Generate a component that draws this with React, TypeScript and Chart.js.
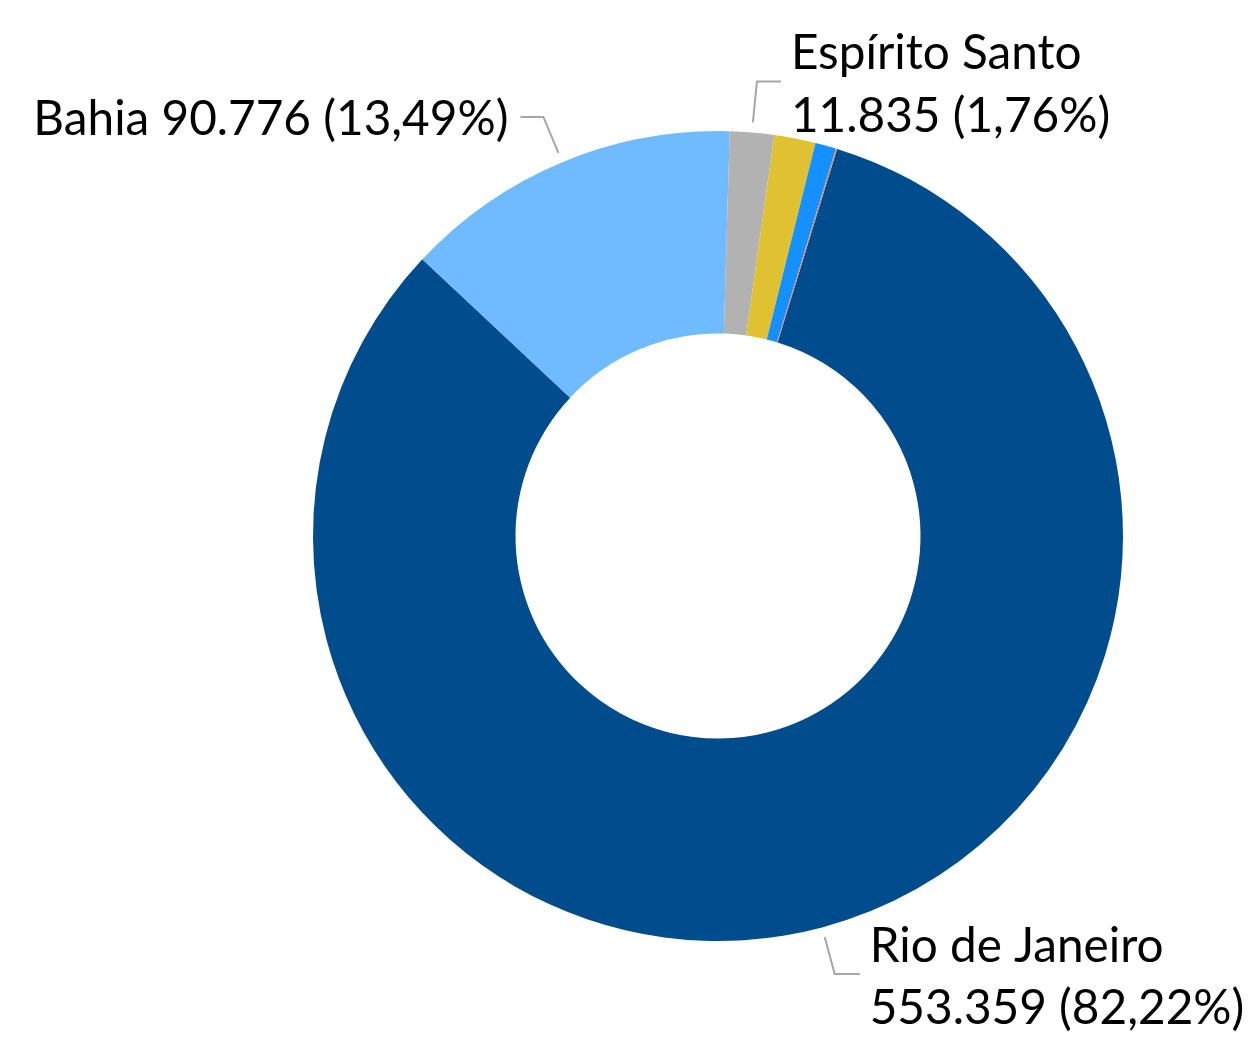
import React, { useEffect, useRef } from "react";
import { Chart, registerables } from "chart.js";

Chart.register(...registerables);

const categories = ["Rio de Janeiro", "Bahia", "Espírito Santo", "São Paulo", "Sergipe", "Outros"];
const values = [553359, 90776, 11835, 11100, 5600, 330];
const colors = ["#004C8C", "#70BAFF", "#B2B2B2", "#E0C132", "#1590FF", "#E8825A"];
const labeledIndexes = [0, 1, 2];

const FONT = "Lato";

const fmtNum = (v: number) => v.toLocaleString("pt-BR");
const fmtPct = (v: number, t: number) =>
  (v / t * 100).toLocaleString("pt-BR", { minimumFractionDigits: 2, maximumFractionDigits: 2 }) + "%";

// leader-line geometry per labeled slice: bend offset, horizontal run, text placement
const leaderSpec: Record<number, { bx: number; by: number; hx: number; align: "left" | "right"; lines: (n: string, v: string, p: string) => string[]; baseOffsets: number[] }> = {
  0: { bx: 10, by: 37, hx: 25, align: "left", lines: (n, v, p) => [n, `${v} (${p})`], baseOffsets: [-12, 50] },
  1: { bx: -15, by: -36, hx: -23, align: "right", lines: (n, v, p) => [`${n} ${v} (${p})`], baseOffsets: [18] },
  2: { bx: 4, by: -41, hx: 24, align: "left", lines: (n, v, p) => [n, `${v} (${p})`], baseOffsets: [-12, 51] },
};

const labelPlugin = {
  id: "donutLabels",
  afterDraw(chart: any) {
    const ctx = chart.ctx as CanvasRenderingContext2D;
    const meta = chart.getDatasetMeta(0);
    const total = values.reduce((a, b) => a + b, 0);
    // font size fitted so that a reference string has the reference width
    ctx.save();
    ctx.font = `100px ${FONT}`;
    const refW = ctx.measureText(`${fmtNum(values[0])} (${fmtPct(values[0], total)})`).width;
    const size = (375 / refW) * 100;
    ctx.font = `${size.toFixed(1)}px ${FONT}`;
    ctx.fillStyle = "#000000";
    ctx.textBaseline = "alphabetic";
    ctx.strokeStyle = "#A6A6A6";
    ctx.lineWidth = 2;
    for (const i of labeledIndexes) {
      const arc = meta.data[i];
      const { x, y, startAngle, endAngle, outerRadius } = arc.getProps(
        ["x", "y", "startAngle", "endAngle", "outerRadius"], true);
      const mid = (startAngle + endAngle) / 2;
      const r = outerRadius + 10;
      const p0x = x + Math.cos(mid) * r;
      const p0y = y + Math.sin(mid) * r;
      const s = leaderSpec[i];
      const p1x = p0x + s.bx;
      const p1y = p0y + s.by;
      const p2x = p1x + s.hx;
      ctx.beginPath();
      ctx.moveTo(p0x, p0y);
      ctx.lineTo(p1x, p1y);
      ctx.lineTo(p2x, p1y);
      ctx.stroke();
      const lines = s.lines(categories[i], fmtNum(values[i]), fmtPct(values[i], total));
      ctx.textAlign = s.align;
      const tx = s.align === "left" ? p2x + 10 : p2x - 12;
      lines.forEach((ln, k) => ctx.fillText(ln, tx, p1y + s.baseOffsets[k]));
    }
    ctx.restore();
  },
};

export default function App() {
  const ref = useRef<HTMLCanvasElement | null>(null);
  useEffect(() => {
    if (!ref.current) return;
    const chart = new Chart(ref.current, {
      type: "doughnut",
      data: {
        labels: categories,
        datasets: [{ data: values, backgroundColor: colors, borderWidth: 0 }],
      },
      options: {
        responsive: false,
        animation: false,
        devicePixelRatio: 1,
        cutout: "50%",
        rotation: 17.1,
        layout: { padding: { left: 313, right: 126, top: 131, bottom: 98 } },
        plugins: { legend: { display: false }, tooltip: { enabled: false } },
      },
      plugins: [labelPlugin],
    });
    return () => chart.destroy();
  }, []);
  return (
    <div style={{ position: "fixed", left: 0, top: 0, width: 1249, height: 1039, background: "#fff" }}>
      <canvas ref={ref} width={1249} height={1039} />
    </div>
  );
}
